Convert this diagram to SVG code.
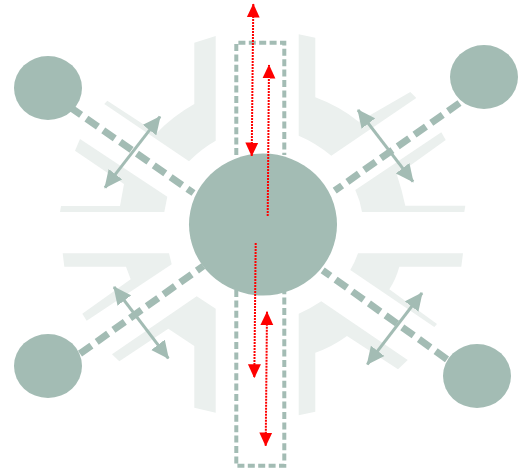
<svg xmlns="http://www.w3.org/2000/svg" width="523" height="473" viewBox="0 0 523 473">
<defs>
<marker id="ag" markerUnits="userSpaceOnUse" markerWidth="18" markerHeight="18" viewBox="0 0 18 18" refX="17" refY="9" orient="auto-start-reverse"><path d="M0 0.500 L18 9 L0 17.500 Z" fill="#a3bcb4"/></marker>
<marker id="ar" markerUnits="userSpaceOnUse" markerWidth="14" markerHeight="14" viewBox="0 0 14 14" refX="13.500" refY="7" orient="auto-start-reverse"><path d="M0 0.500 L14 7 L0 13.500 Z" fill="#fe0000"/></marker>
</defs>
<style>
.pale{fill:#ebf0ee}
.n{fill:#a3bcb4}
.dash{fill:none;stroke:#a3bcb4;stroke-width:7;stroke-dasharray:14 6.500}
.box{fill:none;stroke:#a3bcb4;stroke-width:4;stroke-dasharray:7 3.400}
.dbl{fill:none;stroke:#a3bcb4;stroke-width:3;marker-start:url(#ag);marker-end:url(#ag)}
.red{fill:none;stroke:#fe0000;stroke-width:2;stroke-dasharray:2 1}
</style>
<g id="guides">
<path class="pale" d="M194.300 42.700 L215.700 36 L215.700 140.700 Q201 149 189 161.300 L104.300 104 L107.300 100.700 L156.700 133 Q173 116 194.300 104 Z"/>
<path class="pale" d="M80 139 L167.300 196.700 L164.300 212 L60 212 L61 206 L120 206 L124 184 L75 150.700 Z"/>
<path class="pale" d="M298.700 34.300 L315.300 37.700 L315.300 97.300 Q339 106 358.700 121.700 L410.300 92 L416.300 98 L331.300 155.700 Q316 143 298.700 135.700 Z"/>
<path class="pale" d="M441.300 132.300 L445.700 140 L397 175 Q402 190 405.300 205.700 L465.300 205.700 L464.300 212 L362 212 Q360 200 355.300 190 Z"/>
<path class="pale" d="M62.700 253.300 L169 253.300 L171.700 264.300 L86.700 320.700 L82.300 313.700 L130.700 279.300 L126 266.700 L64.300 266.700 Z"/>
<path class="pale" d="M196.700 296.300 L215.700 308.700 L215.700 412.700 L194.300 407.700 L194.300 346 L168.300 328.700 L119.300 361.300 L112 354.300 Z"/>
<path class="pale" d="M358 253.300 L463 253.300 L461.300 266.700 L399.300 266.700 Q396 279 389.300 289.300 L437 324 L434.300 327 L350.300 270 Q355 262 358 253.300 Z"/>
<path class="pale" d="M321.300 301.300 L407.700 360 L398 369.300 L347 336 Q332 347 315.300 352.700 L315.300 411.700 L298.700 415.300 L298.700 313.700 Q310 309 321.300 301.300 Z"/>
</g>
<g id="connectors">
<path class="box" d="M236.300 155 V42.700 H284.300 V155"/>
<path class="box" d="M236.300 290 V465.700 H284.300 V290"/>
<path class="dash" d="M69.600 106.900 L193.500 193"/>
<path class="dash" d="M459.500 103 L334.700 190.700"/>
<path class="dash" d="M80 353.700 L203.300 266"/>
<path class="dash" d="M447 359.300 L322.700 270.300"/>
<path class="dbl" d="M160 116.700 L105 187.700"/>
<path class="dbl" d="M358 110 L413 181.700"/>
<path class="dbl" d="M114 287 L168.300 358.300"/>
<path class="dbl" d="M422 293 L367.300 364.300"/>
</g>
<g id="center"><ellipse class="n" cx="263" cy="224.500" rx="74" ry="71"/></g>
<g id="node-tl"><ellipse class="n" cx="48" cy="88" rx="34" ry="32"/></g>
<g id="node-tr"><ellipse class="n" cx="484" cy="77" rx="34" ry="32"/></g>
<g id="node-bl"><ellipse class="n" cx="48" cy="366" rx="34" ry="32"/></g>
<g id="node-br"><ellipse class="n" cx="477" cy="376" rx="34" ry="32"/></g>
<g id="flows">
<path class="red" marker-start="url(#ar)" marker-end="url(#ar)" d="M253.300 4 L251.700 156"/>
<path class="red" marker-end="url(#ar)" d="M267.700 216 L269 65"/>
<path class="red" marker-end="url(#ar)" d="M255.700 243 L254.300 377.700"/>
<path class="red" marker-start="url(#ar)" marker-end="url(#ar)" d="M267 311.700 L265.700 446"/>
</g>
</svg>
